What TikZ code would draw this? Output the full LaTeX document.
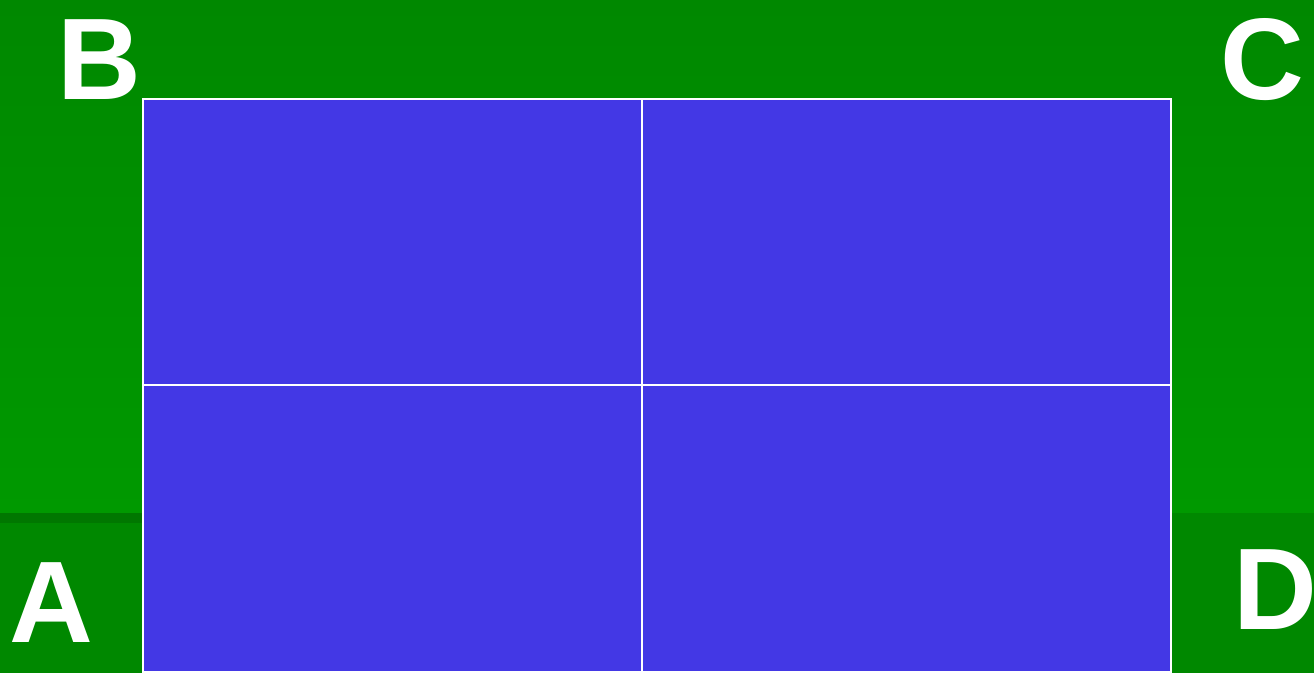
\documentclass[tikz,border=0pt]{standalone}
\usepackage{fontspec}
\setmainfont{Liberation Sans}
\usepackage{xcolor}
\definecolor{fieldtop}{RGB}{0,136,0}
\definecolor{fieldlow}{RGB}{0,153,0}
\definecolor{fieldbase}{RGB}{0,136,0}
\definecolor{fieldedge}{RGB}{0,119,0}
\definecolor{courtblue}{RGB}{67,56,229}
\tikzset{
  cornerlabel/.style={text=white,inner sep=0pt,anchor=base west,
    font=\fontsize{33pt}{33pt}\selectfont\bfseries},
  courtline/.style={white,line width=0.6pt}
}

\begin{document}
\begin{tikzpicture}[x=0.01cm,y=0.01cm]
        % Background field (gradient above, flat below)
        \useasboundingbox (0,0) rectangle (1314,673);
        \shade[top color=fieldtop,bottom color=fieldlow] (0,160) rectangle (1314,673);
        \fill[fieldbase] (0,0) rectangle (1314,160);
        \fill[fieldedge] (0,150) rectangle (143,160);
        % Court with quarters
        \fill[courtblue] (143,1) rectangle (1171,574);
        \draw[courtline] (143,1) rectangle (1171,574);
        \draw[courtline] (642,1) -- (642,574);
        \draw[courtline] (143,288) -- (1171,288);
        % Corner letters
        \node[cornerlabel] (cornerB) at (57,573) {B};
        \node[cornerlabel] (cornerC) at (1220,573) {C};
        \node[cornerlabel] (cornerA) at (9,30) {A};
        \node[cornerlabel] (cornerD) at (1233,43) {D};
      \end{tikzpicture}
\end{document}
